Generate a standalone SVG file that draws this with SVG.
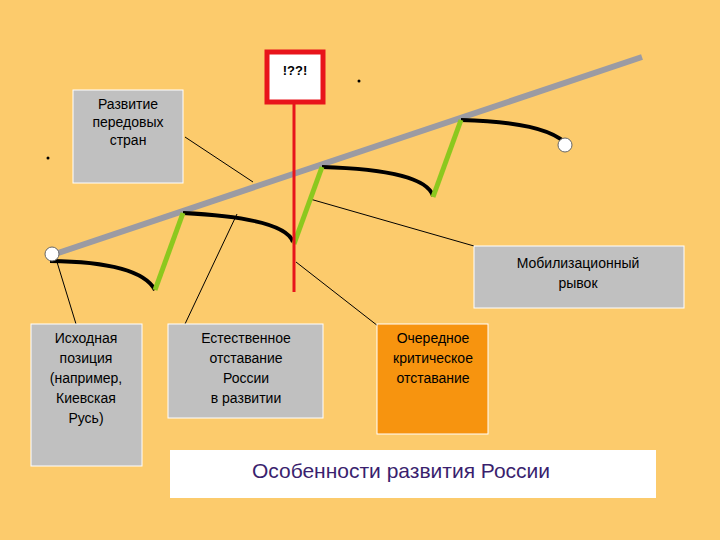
<svg xmlns="http://www.w3.org/2000/svg" width="720" height="540" viewBox="0 0 720 540">
<style>
text{font-family:"Liberation Sans",Arial,sans-serif;fill:#000;text-anchor:middle}
.box{fill:#C0C0C0;stroke:#fff;stroke-width:1}
.lead{stroke:#000;stroke-width:1;fill:none}
.arc{stroke:#000;stroke-width:4;fill:none}
.grn{stroke:#8CC81E;stroke-width:5}
.t{font-size:14px}
</style>
<rect width="720" height="540" fill="#FCCB6C"/>
<g id="connectors">
<line class="lead" x1="185" y1="137" x2="253" y2="182"/>
<line class="lead" x1="474" y1="246" x2="310" y2="199"/>
<line class="lead" x1="57" y1="262" x2="76" y2="324"/>
<line class="lead" x1="237" y1="214" x2="185" y2="324"/>
<line class="lead" x1="296" y1="262" x2="378" y2="326"/>
</g>
<g id="growth">
<line x1="52" y1="255" x2="642" y2="57" stroke="#9B9BA3" stroke-width="6"/>
<path class="arc" d="M50 261 Q140 262 155 290"/>
<path class="arc" d="M183 213 Q285 218 293 242"/>
<path class="arc" d="M322 167 Q425 170 433 196"/>
<path class="arc" d="M461 120 Q550 122 568 146"/>
<line class="grn" x1="155" y1="290" x2="183" y2="213"/>
<line class="grn" x1="294" y1="244" x2="322" y2="167"/>
<line class="grn" x1="433" y1="197" x2="461" y2="120"/>
<circle cx="52" cy="254" r="7" fill="#fff" stroke="#666"/>
<circle cx="565" cy="145" r="7" fill="#fff" stroke="#666"/>
<circle cx="48" cy="158" r="1.5" fill="#000"/>
<circle cx="359" cy="81" r="1.5" fill="#000"/>
</g>
<g id="sign">
<line x1="294" y1="104" x2="294" y2="292" stroke="#E8141B" stroke-width="3"/>
<rect x="267" y="52" width="56" height="50" fill="#fff" stroke="#E8141B" stroke-width="5"/>
<text x="295" y="75" style="font-size:13px;font-weight:bold">!??!</text>
</g>
<g id="n-advanced">
<rect class="box" x="73" y="90" width="110" height="93"/>
<text class="t" x="128" y="109">Развитие</text>
<text class="t" x="128" y="127">передовых</text>
<text class="t" x="128" y="145">стран</text>
</g>
<g id="n-mobil">
<rect class="box" x="474" y="246" width="210" height="62"/>
<text class="t" x="578" y="268">Мобилизационный</text>
<text class="t" x="578" y="288">рывок</text>
</g>
<g id="n-start">
<rect class="box" x="31" y="324" width="111" height="142"/>
<text class="t" x="86" y="343">Исходная</text>
<text class="t" x="86" y="363">позиция</text>
<text class="t" x="86" y="383">(например,</text>
<text class="t" x="86" y="403">Киевская</text>
<text class="t" x="86" y="423">Русь)</text>
</g>
<g id="n-natural">
<rect class="box" x="168" y="324" width="155" height="94"/>
<text class="t" x="246" y="343">Естественное</text>
<text class="t" x="246" y="363">отставание</text>
<text class="t" x="246" y="383">России</text>
<text class="t" x="246" y="403">в развитии</text>
</g>
<g id="n-critical">
<rect x="377" y="324" width="111" height="110" fill="#F7940F" stroke="#fff"/>
<text class="t" x="433" y="343">Очередное</text>
<text class="t" x="433" y="363">критическое</text>
<text class="t" x="433" y="383">отставание</text>
</g>
<g id="title">
<rect x="170" y="450" width="486" height="48" fill="#fff"/>
<text x="401" y="478" style="font-size:21px;fill:#3A1F6E">Особенности развития России</text>
</g>
</svg>
